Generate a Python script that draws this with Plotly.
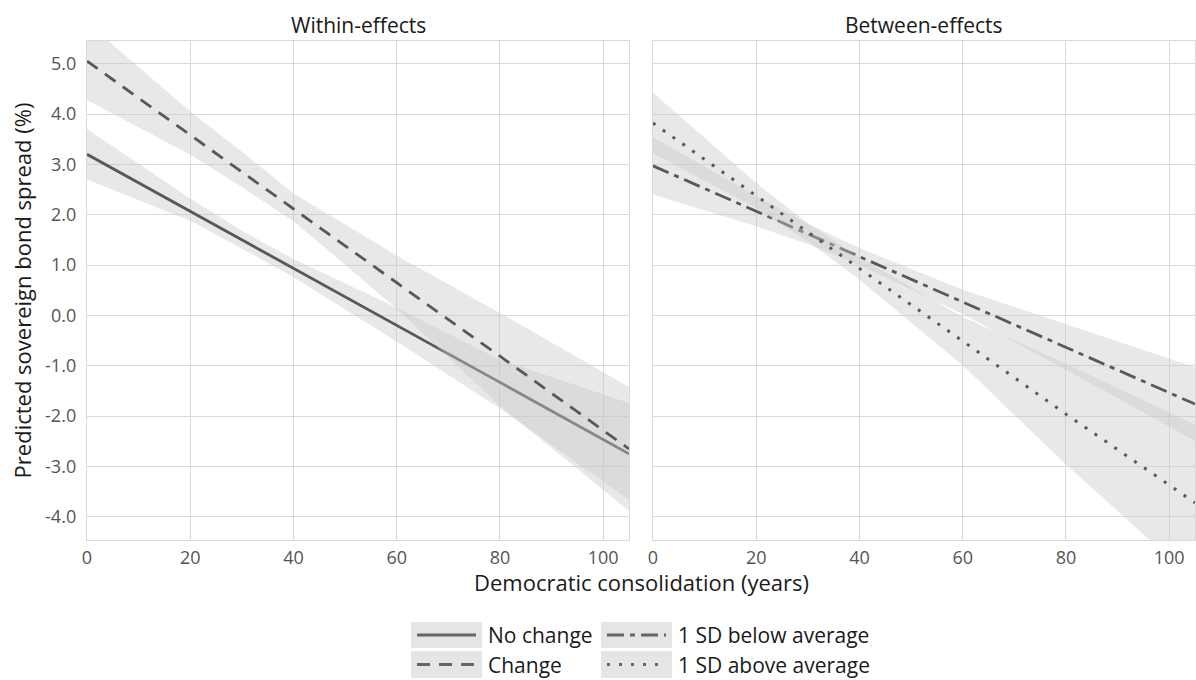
import plotly.graph_objects as go

# ---------------- data ----------------
x_years = [0, 20, 30, 40, 60, 80, 105]
panel_titles = ["Within-effects", "Between-effects"]
series_names = ["No change", "Change", "1 SD below average", "1 SD above average"]

# Within-effects
nochange_mid = [3.20, 2.07, 1.50, 0.93, -0.20, -1.33, -2.75]
nochange_lo = [2.70, 1.88, 1.33, 0.76, -0.52, -1.85, -3.66]
nochange_hi = [3.70, 2.32, 1.68, 1.12, 0.15, -0.88, -1.74]
change_mid = [5.05, 3.58, 2.85, 2.12, 0.65, -0.81, -2.65]
change_lo = [4.28, 3.19, 2.55, 1.87, 0.14, -1.80, -3.88]
change_hi = [5.82, 4.05, 3.25, 2.42, 1.19, 0.05, -1.42]

# Between-effects
below_mid = [2.97, 2.07, 1.62, 1.17, 0.27, -0.63, -1.76]
below_lo = [2.40, 1.77, 1.42, 1.00, 0.03, -1.08, -2.49]
below_hi = [3.54, 2.37, 1.82, 1.34, 0.51, -0.18, -1.03]
above_mid = [3.82, 2.38, 1.65, 0.93, -0.51, -1.96, -3.72]
above_lo = [3.22, 2.13, 1.47, 0.71, -0.99, -2.96, -5.27]
above_hi = [4.42, 2.63, 1.83, 1.15, -0.03, -0.96, -2.17]

x_tick_vals = [0, 20, 40, 60, 80, 100]
y_tick_vals = [-4, -3, -2, -1, 0, 1, 2, 3, 4, 5]
y_tick_text = ["-4.0", "-3.0", "-2.0", "-1.0", "0.0", "1.0", "2.0", "3.0", "4.0", "5.0"]

# ---------------- style ----------------
FONT = "Open Sans"
W, H = 1196, 680
ML, MR, MT, MB = 87, 1, 41, 140
PW, PH = W - ML - MR, H - MT - MB
BAND = "rgba(200,200,200,0.42)"
LINE = "#585858"
GRID = "#d9d9d9"
dashes = ["solid", "13px,9px", "17px,6px,5px,6px", "3px,9px"]


def px_x(p):
    return (p - ML) / PW


def px_y(p):
    return (H - MB - p) / PH


fig = go.Figure()

groups = [
    ("x", "y", nochange_lo, nochange_hi, nochange_mid, 0),
    ("x", "y", change_lo, change_hi, change_mid, 1),
    ("x2", "y2", below_lo, below_hi, below_mid, 2),
    ("x2", "y2", above_lo, above_hi, above_mid, 3),
]
for xa, ya, lo, hi, mid, k in groups:
    fig.add_trace(go.Scatter(
        x=x_years + x_years[::-1], y=hi + lo[::-1], fill="toself",
        fillcolor=BAND, line=dict(width=0), mode="lines",
        hoverinfo="skip", showlegend=False, xaxis=xa, yaxis=ya))
    fig.add_trace(go.Scatter(
        x=x_years, y=mid, mode="lines", name=series_names[k],
        line=dict(color=LINE, width=3 if k == 3 else 2.8, dash=dashes[k]),
        showlegend=False, xaxis=xa, yaxis=ya))

tickfont = dict(family=FONT, size=18, color="#555555")
axis_common = dict(
    range=[0, 105], tickvals=x_tick_vals, showgrid=True, gridcolor=GRID,
    gridwidth=1.4, zeroline=False, showline=True, mirror=True,
    linecolor=GRID, linewidth=1.4, ticks="", ticklabelstandoff=1,
    tickfont=tickfont)
yaxis_common = dict(
    range=[-4.46, 5.45], tickvals=y_tick_vals, ticktext=y_tick_text,
    showgrid=True, gridcolor=GRID, gridwidth=1.4, zeroline=False,
    showline=True, mirror=True, linecolor=GRID, linewidth=1.4, ticks="",
    ticklabelstandoff=6)

fig.update_layout(
    width=W, height=H, autosize=False,
    margin=dict(l=ML, r=MR, t=MT, b=MB),
    paper_bgcolor="white", plot_bgcolor="white",
    font=dict(family=FONT, color="#1a1a1a"),
    showlegend=False,
    xaxis=dict(domain=[0, px_x(629)], anchor="y", **axis_common),
    xaxis2=dict(domain=[px_x(653), 1], anchor="y2", **axis_common),
    yaxis=dict(domain=[0, 1], anchor="x", tickfont=tickfont,
               title=dict(text="Predicted sovereign bond spread (%)",
                          font=dict(family=FONT, size=22, color="#1a1a1a"),
                          standoff=7),
               **yaxis_common),
    yaxis2=dict(domain=[0, 1], anchor="x2", matches="y",
                showticklabels=False, **yaxis_common),
)

annotations = []
for i, t in enumerate(panel_titles):
    cx = (px_x(87) + px_x(629)) / 2 if i == 0 else (px_x(653) + 1) / 2
    annotations.append(dict(text=t, x=cx, y=1, xref="paper", yref="paper",
                            xanchor="center", yanchor="bottom", yshift=0,
                            showarrow=False,
                            font=dict(family=FONT, size=21, color="#1a1a1a")))
annotations.append(dict(text="Democratic consolidation (years)", x=0.5,
                        y=px_y(582), xref="paper", yref="paper",
                        xanchor="center", yanchor="middle", showarrow=False,
                        font=dict(family=FONT, size=22, color="#1a1a1a")))

# legend (column-major, 2x2) with grey key boxes
shapes = []
key_cols = [411, 601]
key_rows = [(622, 648), (651, 678)]
order = [(0, 0), (0, 1), (1, 0), (1, 1)]
for k, (c, r) in enumerate(order):
    x0, x1 = key_cols[c], key_cols[c] + 71
    y0, y1 = key_rows[r]
    shapes.append(dict(type="rect", xref="paper", yref="paper",
                       x0=px_x(x0), x1=px_x(x1), y0=px_y(y1), y1=px_y(y0),
                       fillcolor="#e5e5e5", line=dict(width=0), layer="above"))
    ym = px_y((y0 + y1) / 2)
    shapes.append(dict(type="line", xref="paper", yref="paper",
                       x0=px_x(x0 + 6), x1=px_x(x1 - 6), y0=ym, y1=ym,
                       line=dict(color="#666666", width=3, dash=dashes[k]),
                       layer="above"))
    annotations.append(dict(text=series_names[k], x=px_x(x1 + 4), y=ym,
                            xref="paper", yref="paper", xanchor="left",
                            yanchor="middle", showarrow=False,
                            font=dict(family=FONT, size=21, color="#1a1a1a")))

fig.update_layout(annotations=annotations, shapes=shapes)
fig.write_html("out.html", post_script="document.body.style.margin='0';",
               config={"displayModeBar": False})
